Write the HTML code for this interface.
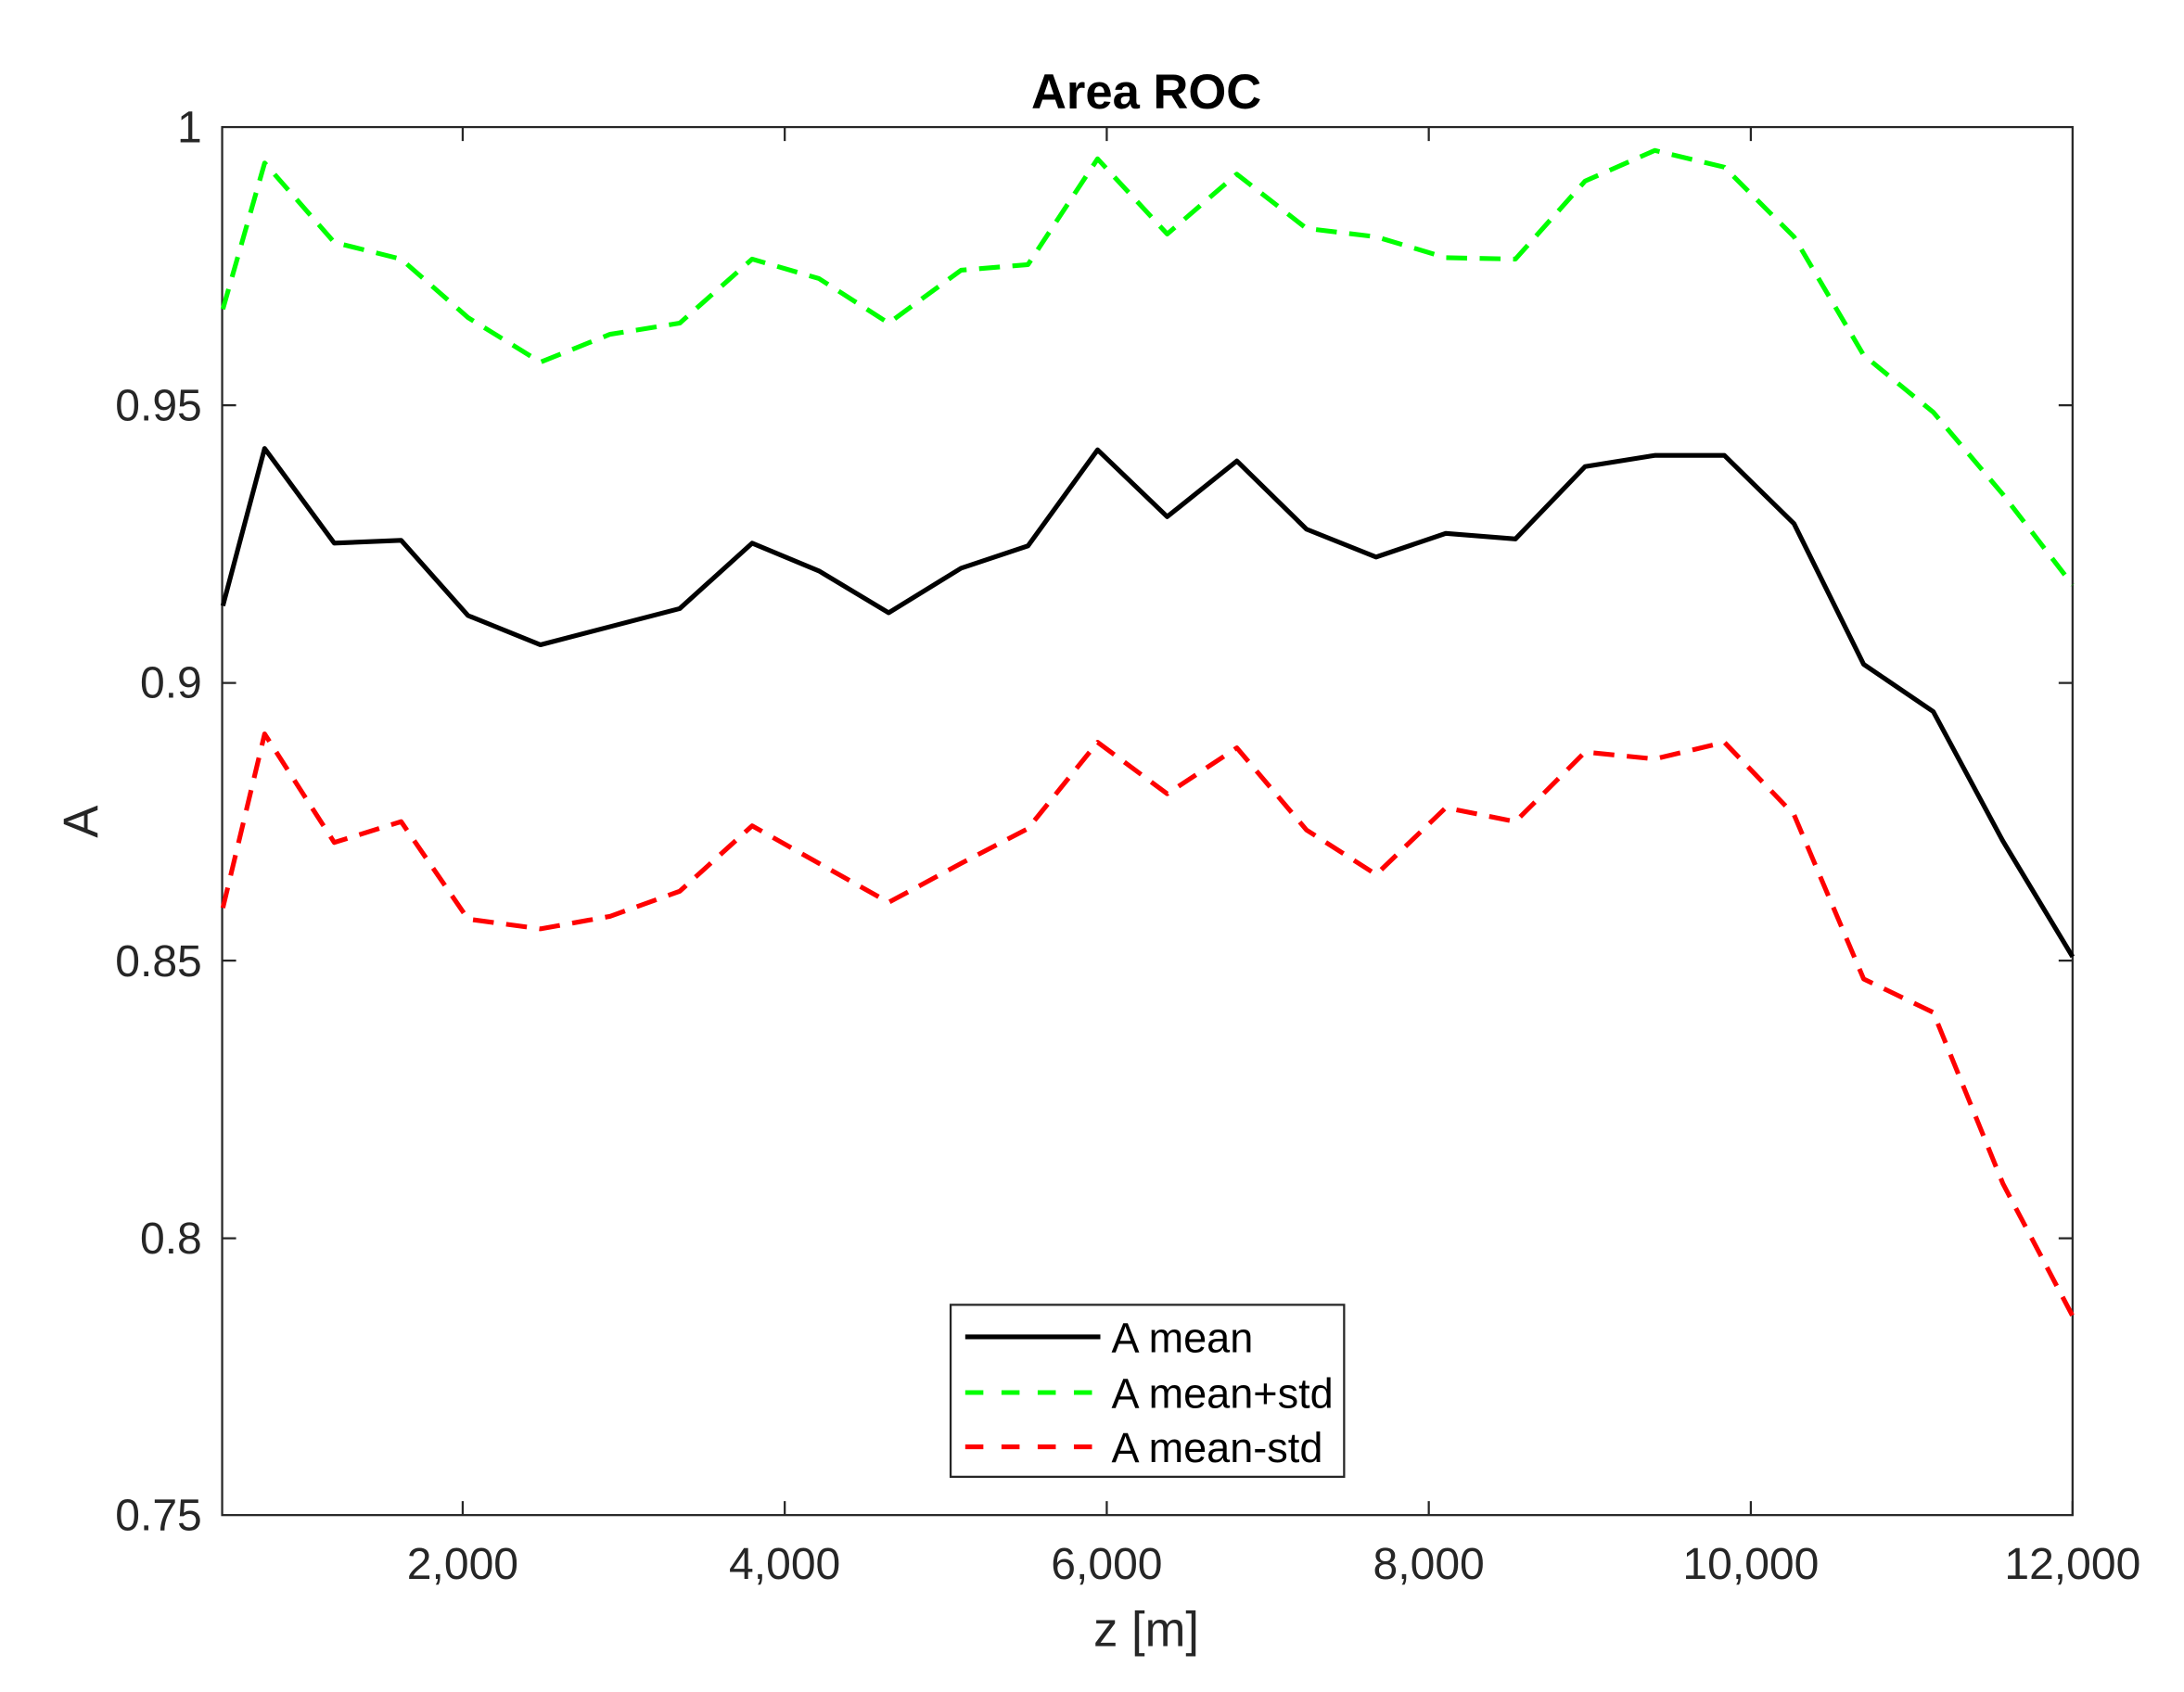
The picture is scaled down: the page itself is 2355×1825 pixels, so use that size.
<!DOCTYPE html>
<html><head><style>html,body{margin:0;padding:0;background:#fff}svg{display:block}</style></head>
<body>
<svg width="2355" height="1825" viewBox="0 0 1568 1215" xmlns="http://www.w3.org/2000/svg" font-family="Liberation Sans, Arial, sans-serif">
<rect x="0" y="0" width="1568" height="1215" fill="#fff"/>
<g stroke="#262626" stroke-width="1.5" fill="none">
<rect x="159.5" y="91.2" width="1328.5" height="996.8"/>
<path d="M332.2,1088v-10M563.4,1088v-10M794.6,1088v-10M1025.8,1088v-10M1257,1088v-10M1488,1088v-10
M332.2,91.2v10M563.4,91.2v10M794.6,91.2v10M1025.8,91.2v10M1257,91.2v10
M159.5,291v0h10M159.5,490.4h10M159.5,689.8h10M159.5,889.2h10
M1488,291h-10M1488,490.4h-10M1488,689.8h-10M1488,889.2h-10"/>
</g>
<g font-size="32" fill="#262626" text-anchor="end">
<text x="145" y="102">1</text>
<text x="145" y="302">0.95</text>
<text x="145" y="501">0.9</text>
<text x="145" y="701">0.85</text>
<text x="145" y="900">0.8</text>
<text x="145" y="1099">0.75</text>
</g>
<g font-size="32" fill="#262626" text-anchor="middle">
<text x="332.2" y="1134">2,000</text>
<text x="563.4" y="1134">4,000</text>
<text x="794.6" y="1134">6,000</text>
<text x="1025.8" y="1134">8,000</text>
<text x="1257" y="1134">10,000</text>
<text x="1488" y="1134">12,000</text>
<text x="823" y="1182" font-size="35">z [m]</text>
<text x="823" y="78" font-size="35" font-weight="bold" fill="#000">Area ROC</text>
<text transform="translate(70,590) rotate(-90)" font-size="35">A</text>
</g>
<g fill="none" stroke-width="3.4" stroke-linejoin="round">
<polyline stroke="#000" points="160,435 190,322 240,390 288,388 336,442 388,463 438,450 488,437 540,390 588,410 638,440 690,408 738,392 788,323 838,371 888,331 938,380 988,400 1038,383 1088,387 1138,335 1188,327 1238,327 1288,376 1338,477 1388,511 1438,604 1488,687"/>
<polyline stroke="#00ff00" stroke-dasharray="15,9" points="160,222 190,117 240,174 288,186 336,228 388,260 438,240 488,232 540,186 588,200 638,232 690,194 738,190 788,114 838,168 888,125 938,164 988,170 1038,185 1088,186 1138,130 1188,108 1238,120 1288,170 1338,255 1388,296 1438,355 1488,420"/>
<polyline stroke="#ff0000" stroke-dasharray="15,9" points="160,652 190,527 240,605 288,590 336,660 388,667 438,658 488,640 540,593 588,620 638,648 690,620 738,595 788,533 838,570 888,537 938,596 988,628 1038,580 1088,590 1138,540 1188,545 1238,533 1288,585 1338,703 1388,727 1438,850 1488,945"/>
</g>
<rect x="682.5" y="937" width="282.5" height="123.5" fill="#fff" stroke="#262626" stroke-width="1.5"/>
<g stroke-width="3.4">
<line x1="693" y1="960" x2="790" y2="960" stroke="#000"/>
<line x1="693" y1="1000" x2="790" y2="1000" stroke="#00ff00" stroke-dasharray="13,13"/>
<line x1="693" y1="1039" x2="790" y2="1039" stroke="#ff0000" stroke-dasharray="13,13"/>
</g>
<g font-size="30" fill="#000">
<text x="798" y="971">A mean</text>
<text x="798" y="1011">A mean+std</text>
<text x="798" y="1050">A mean-std</text>
</g>
</svg>
</body></html>
